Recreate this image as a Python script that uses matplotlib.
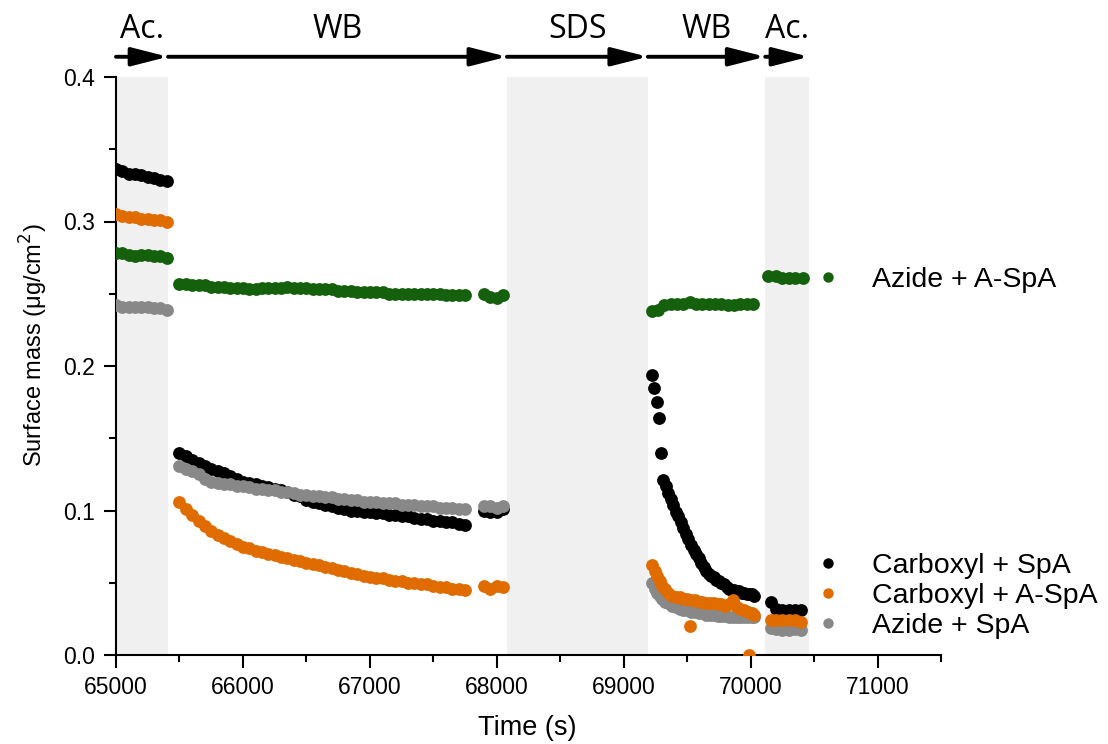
import matplotlib
matplotlib.use("Agg")
import matplotlib.pyplot as plt
from matplotlib.lines import Line2D
import matplotlib.transforms as mtransforms

# ---------------- data ----------------
phase_labels = ["Ac.", "WB", "SDS", "WB", "Ac."]
phase_edges = [65000, 65410, 68080, 69190, 70115, 70460]
shaded_phases = [0, 2, 4]

# phase 1 (Ac.)
t_ac1 = [65000, 65050, 65100, 65150, 65200, 65250, 65300, 65350, 65400]
black_ac1 = [0.336, 0.335, 0.333, 0.333, 0.332, 0.331, 0.330, 0.329, 0.328]
orange_ac1 = [0.305, 0.304, 0.303, 0.303, 0.302, 0.302, 0.301, 0.301, 0.300]
green_ac1 = [0.278, 0.278, 0.277, 0.276, 0.277, 0.277, 0.276, 0.276, 0.275]
gray_ac1 = [0.242, 0.241, 0.241, 0.241, 0.241, 0.241, 0.240, 0.240, 0.239]

# phase 2 (WB)
t_wb1 = [65500, 65550, 65600, 65650, 65700, 65750, 65800, 65850, 65900, 65950,
         66000, 66050, 66100, 66150, 66200, 66250, 66300, 66350, 66400, 66450,
         66500, 66550, 66600, 66650, 66700, 66750, 66800, 66850, 66900, 66950,
         67000, 67050, 67100, 67150, 67200, 67250, 67300, 67350, 67400, 67450,
         67500, 67550, 67600, 67650, 67700, 67750]
black_wb1 = [0.140, 0.138, 0.135, 0.133, 0.131, 0.129, 0.127, 0.126, 0.124, 0.122,
             0.120, 0.119, 0.118, 0.117, 0.116, 0.115, 0.114, 0.113, 0.111, 0.110,
             0.107, 0.106, 0.105, 0.104, 0.103, 0.102, 0.101, 0.100, 0.100, 0.099,
             0.099, 0.098, 0.098, 0.097, 0.097, 0.096, 0.096, 0.095, 0.094, 0.094,
             0.093, 0.093, 0.092, 0.092, 0.091, 0.090]
gray_wb1 = [0.131, 0.129, 0.127, 0.125, 0.122, 0.120, 0.119, 0.118, 0.118, 0.117,
            0.117, 0.116, 0.115, 0.115, 0.114, 0.114, 0.113, 0.113, 0.112, 0.111,
            0.111, 0.110, 0.110, 0.109, 0.109, 0.108, 0.108, 0.107, 0.107, 0.106,
            0.106, 0.106, 0.105, 0.105, 0.105, 0.104, 0.104, 0.104, 0.103, 0.103,
            0.103, 0.102, 0.102, 0.102, 0.101, 0.101]
orange_wb1 = [0.106, 0.101, 0.097, 0.093, 0.089, 0.086, 0.083, 0.081, 0.079, 0.077,
              0.075, 0.074, 0.072, 0.071, 0.070, 0.069, 0.068, 0.067, 0.066, 0.065,
              0.064, 0.063, 0.062, 0.061, 0.060, 0.059, 0.058, 0.057, 0.056, 0.055,
              0.054, 0.053, 0.053, 0.052, 0.051, 0.051, 0.050, 0.050, 0.049, 0.049,
              0.048, 0.047, 0.047, 0.046, 0.046, 0.045]
green_wb1 = [0.257, 0.257, 0.256, 0.256, 0.256, 0.255, 0.255, 0.255, 0.254, 0.254,
             0.254, 0.253, 0.253, 0.254, 0.254, 0.254, 0.254, 0.255, 0.254, 0.254,
             0.254, 0.253, 0.253, 0.253, 0.253, 0.252, 0.252, 0.252, 0.251, 0.251,
             0.251, 0.251, 0.251, 0.250, 0.250, 0.250, 0.250, 0.250, 0.250, 0.250,
             0.250, 0.250, 0.249, 0.249, 0.249, 0.249]
t_wb1_end = [67900, 67950, 68000, 68050]
black_wb1_end = [0.100, 0.099, 0.099, 0.101]
gray_wb1_end = [0.103, 0.103, 0.102, 0.103]
orange_wb1_end = [0.048, 0.046, 0.048, 0.047]
green_wb1_end = [0.250, 0.248, 0.247, 0.249]

# phase 4 (WB after SDS)
t_wb2_black = [69226, 69242, 69261, 69277, 69292, 69313, 69330, 69350, 69370, 69390,
               69410, 69430, 69450, 69470, 69490, 69510, 69530, 69550, 69570, 69590,
               69610, 69630, 69650, 69670, 69690, 69710, 69730, 69750, 69770, 69790,
               69810, 69830, 69850, 69870, 69890, 69910, 69930, 69950, 69970, 69990,
               70010, 70030]
black_wb2 = [0.194, 0.185, 0.175, 0.164, 0.140, 0.121, 0.117, 0.112, 0.108, 0.104,
             0.099, 0.096, 0.092, 0.088, 0.084, 0.080, 0.076, 0.073, 0.070, 0.067,
             0.064, 0.061, 0.058, 0.056, 0.055, 0.054, 0.052, 0.051, 0.050, 0.049,
             0.047, 0.046, 0.045, 0.045, 0.044, 0.044, 0.043, 0.043, 0.042, 0.042,
             0.042, 0.041]
t_wb2 = [69226, 69245, 69265, 69285, 69305, 69325, 69350, 69380, 69410, 69440,
         69470, 69500, 69530, 69560, 69590, 69620, 69650, 69680, 69710, 69740,
         69770, 69800, 69830, 69860, 69890, 69920, 69950, 69980, 70010, 70030]
orange_wb2 = [0.062, 0.058, 0.055, 0.051, 0.048, 0.046, 0.043, 0.041, 0.040, 0.040,
              0.039, 0.039, 0.038, 0.038, 0.037, 0.037, 0.036, 0.036, 0.036, 0.035,
              0.035, 0.034, 0.035, 0.038, 0.033, 0.032, 0.031, 0.030, 0.029, 0.028]
gray_wb2 = [0.050, 0.046, 0.043, 0.041, 0.039, 0.037, 0.036, 0.034, 0.033, 0.032,
            0.031, 0.031, 0.030, 0.030, 0.029, 0.029, 0.028, 0.028, 0.028, 0.027,
            0.027, 0.027, 0.026, 0.026, 0.026, 0.026, 0.026, 0.026, 0.026, 0.026]
t_orange_outliers = [69523, 69990]
orange_outliers = [0.020, 0.000]
t_wb2_green = [69220, 69270, 69320, 69370, 69420, 69470, 69520, 69570, 69620,
               69670, 69720, 69770, 69820, 69870, 69920, 69970, 70020]
green_wb2 = [0.238, 0.239, 0.242, 0.243, 0.243, 0.243, 0.244, 0.243, 0.243,
             0.243, 0.243, 0.243, 0.242, 0.242, 0.243, 0.243, 0.243]

# phase 5 (Ac.)
t_ac2 = [70160, 70200, 70250, 70300, 70350, 70400]
black_ac2 = [0.037, 0.032, 0.031, 0.031, 0.031, 0.031]
orange_ac2 = [0.024, 0.024, 0.024, 0.024, 0.024, 0.023]
gray_ac2 = [0.019, 0.018, 0.017, 0.017, 0.018, 0.017]
t_ac2_green = [70140, 70200, 70250, 70300, 70350, 70410]
green_ac2 = [0.262, 0.262, 0.261, 0.261, 0.261, 0.261]

series_names = ["Carboxyl + SpA", "Carboxyl + A-SpA", "Azide + SpA", "Azide + A-SpA"]
series_colors = ["#000000", "#E06C00", "#888888", "#14600C"]

# ---------------- figure ----------------
plt.rcParams["font.family"] = ["Liberation Sans", "DejaVu Sans"]
fig = plt.figure(figsize=(11.08, 7.44), dpi=100)
ax = fig.add_axes([116 / 1108, 1 - 655 / 744, (941 - 116) / 1108, (655 - 77) / 744])

for i in shaded_phases:
    ax.axvspan(phase_edges[i], phase_edges[i + 1], color="#F0F0F0", lw=0, zorder=0)

ms = 85
black_t = t_ac1 + t_wb1 + t_wb1_end + t_wb2_black + t_ac2
black_y = black_ac1 + black_wb1 + black_wb1_end + black_wb2 + black_ac2
gray_t = t_ac1 + t_wb1 + t_wb1_end + t_wb2 + t_ac2
gray_y = gray_ac1 + gray_wb1 + gray_wb1_end + gray_wb2 + gray_ac2
orange_t = t_ac1 + t_wb1 + t_wb1_end + t_wb2 + t_orange_outliers + t_ac2
orange_y = orange_ac1 + orange_wb1 + orange_wb1_end + orange_wb2 + orange_outliers + orange_ac2
green_t = t_ac1 + t_wb1 + t_wb1_end + t_wb2_green + t_ac2_green
green_y = green_ac1 + green_wb1 + green_wb1_end + green_wb2 + green_ac2

ax.scatter(black_t, black_y, s=ms, color=series_colors[0], lw=0, zorder=2)
ax.scatter(gray_t, gray_y, s=ms, color=series_colors[2], lw=0, zorder=3)
ax.scatter(orange_t, orange_y, s=ms, color=series_colors[1], lw=0, zorder=4)
ax.scatter(green_t, green_y, s=ms, color=series_colors[3], lw=0, zorder=5)

ax.set_xlim(65000, 71500)
ax.set_ylim(0, 0.4)
ax.set_xticks([65000, 66000, 67000, 68000, 69000, 70000, 71000])
ax.set_xticks([65500, 66500, 67500, 68500, 69500, 70500, 71500], minor=True)
ax.set_yticks([0.0, 0.1, 0.2, 0.3, 0.4])
ax.set_yticks([0.05, 0.15, 0.25, 0.35], minor=True)
ax.set_yticklabels(["0.0", "0.1", "0.2", "0.3", "0.4"])
for s in ["top", "right"]:
    ax.spines[s].set_visible(False)
for s in ["left", "bottom"]:
    ax.spines[s].set_linewidth(1.5)
ax.tick_params(which="major", direction="out", length=9, width=1.5, labelsize=16.5, pad=6)
ax.tick_params(which="minor", direction="out", length=5, width=1.5)

ax.set_xlabel("Time (s)", fontsize=19.5, va="center")
ax.xaxis.set_label_coords(0.498, -0.126)
ax.set_ylabel("Surface mass (\u03bcg/cm$^2$)", fontsize=17, va="center")
ax.yaxis.set_label_coords(-0.1, 0.536)

# phase arrows on top
trans = mtransforms.blended_transform_factory(ax.transData, ax.transAxes)
for i, lab in enumerate(phase_labels):
    x0, x1 = phase_edges[i], phase_edges[i + 1]
    ax.annotate("", xy=(x1, 1.035), xytext=(x0, 1.035), xycoords=trans, textcoords=trans,
                annotation_clip=False,
                arrowprops=dict(arrowstyle="-|>,head_length=1.1,head_width=0.28",
                                mutation_scale=20, lw=2.8, color="black",
                                shrinkA=0, shrinkB=0))
    ax.text((x0 + x1) / 2, 1.083, lab, transform=trans, ha="center", va="center",
            fontsize=23, family="Open Sans", clip_on=False)

# legends
def handle(c):
    return Line2D([], [], ls="none", marker="o", markersize=7.5, color=c, mec="none")

leg1 = fig.legend([handle(series_colors[3])], [series_names[3]], loc="center left",
                  bbox_to_anchor=(814 / 1108, 1 - 280 / 744), frameon=False, fontsize=20.5,
                  handlelength=1.0, handletextpad=1.05, borderpad=0, borderaxespad=0)
leg2 = fig.legend([handle(c) for c in series_colors[:3]], series_names[:3], loc="center left",
                  bbox_to_anchor=(814 / 1108, 1 - 596 / 744), frameon=False, fontsize=20.5,
                  handlelength=1.0, handletextpad=1.05, borderpad=0, borderaxespad=0,
                  labelspacing=0.15)

fig.savefig("out.png", dpi=100)
